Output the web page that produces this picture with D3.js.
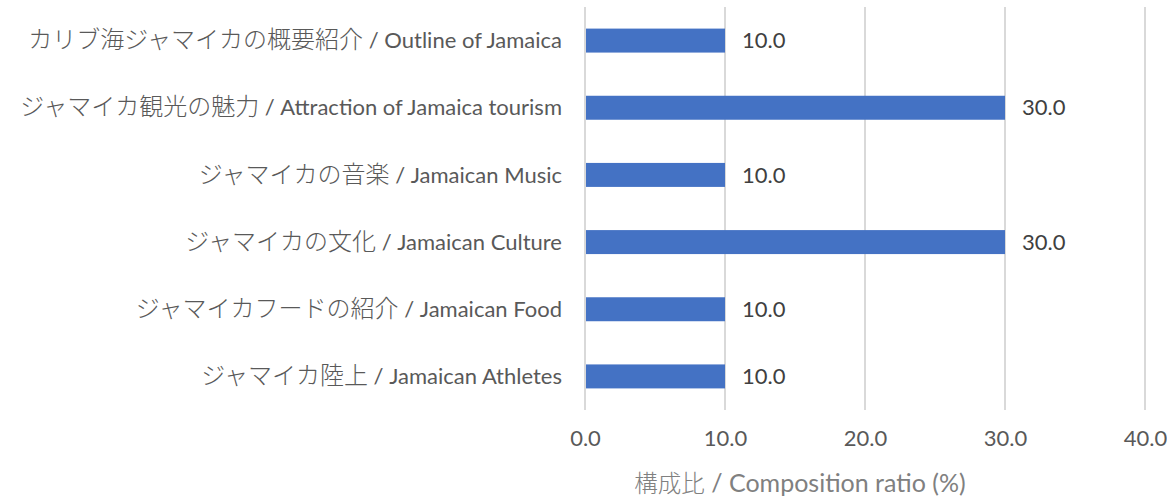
<!DOCTYPE html>
<html>
<head>
<meta charset="utf-8">
<script src="https://cdn.jsdelivr.net/npm/d3@7"></script>
<style>
  body { margin: 0; background: #fff; }
  text { font-family: "Lato", "Noto Sans CJK JP", sans-serif; }
  .jp { font-family: "Noto Sans CJK JP", sans-serif; font-weight: 300; }
</style>
</head>
<body>
<svg id="chartSvg"></svg>
<script>
// Categories (top to bottom) and their composition ratio values.
const categories = [
  "カリブ海ジャマイカの概要紹介 / Outline of Jamaica",
  "ジャマイカ観光の魅力 / Attraction of Jamaica tourism",
  "ジャマイカの音楽 / Jamaican Music",
  "ジャマイカの文化 / Jamaican Culture",
  "ジャマイカフードの紹介 / Jamaican Food",
  "ジャマイカ陸上 / Jamaican Athletes"
];
const ratios = [10, 30, 10, 30, 10, 10];
const xTicks = [0, 10, 20, 30, 40];
const xTitle = "構成比 / Composition ratio (%)";

// Size of the SVG and the plot area inside it.
const width = 1167;
const height = 502;
const margin = { top: 7, right: 22, bottom: 92, left: 585 };

const svg = d3.select("#chartSvg")
  .attr("width", width)
  .attr("height", height);

const rows = categories.map((name, i) => ({ name: name, value: ratios[i] }));

// Scales: value -> x, category -> y.
const x = d3.scaleLinear()
  .domain([0, 40])
  .range([margin.left, width - margin.right]);

const y = d3.scaleBand()
  .domain(categories)
  .range([margin.top, height - margin.bottom])
  .paddingInner(0.643)
  .paddingOuter(0.3215);

// Writes "日本語 / English" as two tspans so the Japanese part
// can be a bit larger and lighter, like the original chart.
function splitLabel(sel, jpSize, enSize) {
  sel.each(function(d) {
    const t = d3.select(this);
    const full = typeof d === "string" ? d : t.text();
    const parts = full.split(" / ");
    t.text(null)
      .attr("font-size", enSize)
      .attr("dy", "0.35em");
    t.append("tspan").attr("class", "jp").attr("font-size", jpSize).text(parts[0]);
    t.append("tspan").attr("font-size", enSize).text(" / " + parts[1]);
  });
}

// Vertical gridlines.
svg.append("g")
  .selectAll("line")
  .data(xTicks)
  .enter()
  .append("line")
  .attr("x1", d => x(d))
  .attr("x2", d => x(d))
  .attr("y1", margin.top)
  .attr("y2", height - margin.bottom)
  .attr("stroke", "#d9d9d9")
  .attr("stroke-width", 2);

// Bars.
svg.append("g")
  .selectAll("rect")
  .data(rows)
  .enter()
  .append("rect")
  .attr("x", x(0) + 1)
  .attr("y", d => y(d.name))
  .attr("width", d => x(d.value) - x(0) - 1)
  .attr("height", y.bandwidth())
  .attr("fill", "#4472c4");

// Value labels next to each bar.
svg.append("g")
  .selectAll("text")
  .data(rows)
  .enter()
  .append("text")
  .attr("x", d => x(d.value) + 17)
  .attr("y", d => y(d.name) + y.bandwidth() / 2)
  .attr("dy", "0.35em")
  .attr("font-size", 22)
  .attr("fill", "#404040")
  .text(d => d.value.toFixed(1));

// Category labels (y axis, no line or ticks).
const yAxis = svg.append("g")
  .attr("transform", `translate(${margin.left - 23},0)`)
  .call(d3.axisLeft(y).tickSize(0).tickPadding(0));
yAxis.select(".domain").remove();
yAxis.selectAll("text")
  .attr("fill", "#595959")
  .style("font-family", null)
  .call(splitLabel, 24, 22);

// X axis tick labels.
const xAxis = svg.append("g")
  .attr("transform", `translate(0,${height - margin.bottom})`)
  .call(d3.axisBottom(x).tickValues(xTicks).tickSize(0).tickPadding(20)
    .tickFormat(d => d.toFixed(1)));
xAxis.select(".domain").remove();
xAxis.selectAll("text")
  .attr("font-size", 22)
  .attr("fill", "#595959")
  .style("font-family", null);

// X axis title.
svg.append("text")
  .datum(xTitle)
  .attr("x", 800)
  .attr("y", 483)
  .attr("text-anchor", "middle")
  .attr("fill", "#808080")
  .call(splitLabel, 23.5, 25);
</script>
</body>
</html>
